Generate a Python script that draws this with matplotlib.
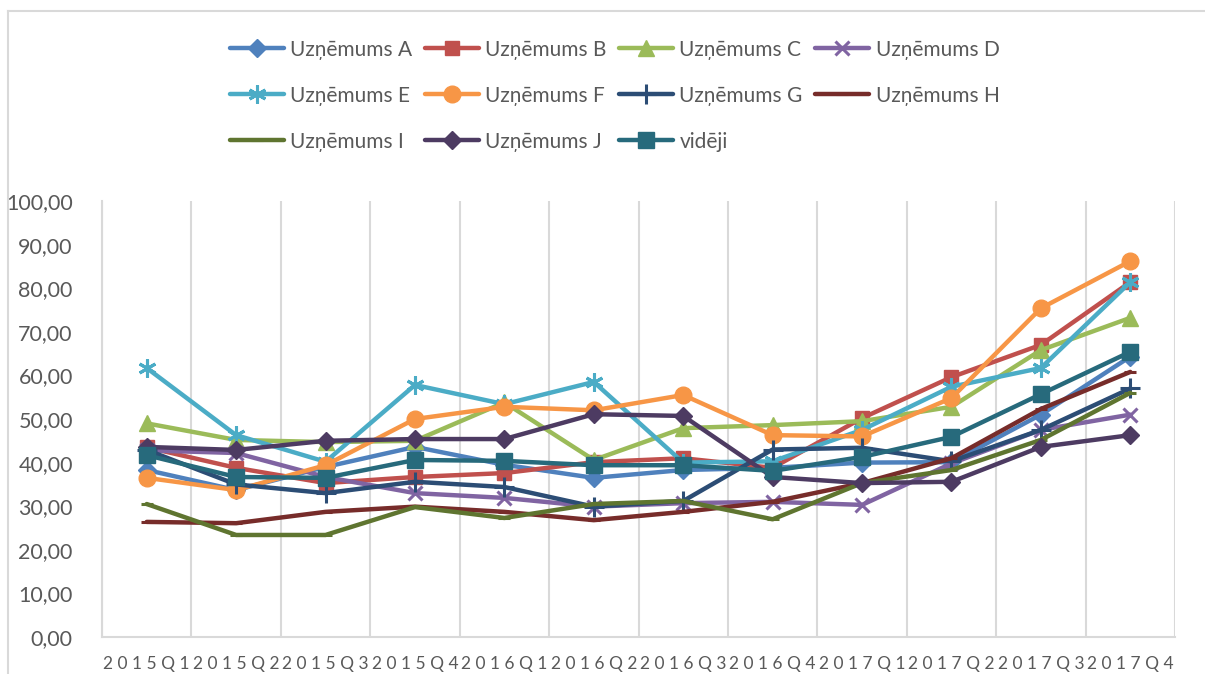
import matplotlib
matplotlib.use("Agg")
import matplotlib.pyplot as plt
from matplotlib.lines import Line2D
from matplotlib.ticker import FixedLocator, FuncFormatter

plt.rcParams['font.family'] = ['Lato', 'DejaVu Sans']

# ceturkšņi
quarters = ['2015Q1', '2015Q2', '2015Q3', '2015Q4',
            '2016Q1', '2016Q2', '2016Q3', '2016Q4',
            '2017Q1', '2017Q2', '2017Q3', '2017Q4']

# vērtības pa uzņēmumiem (nolasītas no attēla)
uzn_a = [38.3, 33.7, 39.0, 43.6, 39.5, 36.5, 38.3, 38.8, 40.0, 40.1, 51.0, 64.3]
uzn_b = [43.5, 38.8, 35.3, 36.7, 37.6, 40.1, 41.0, 38.8, 50.2, 59.6, 67.0, 81.4]
uzn_c = [49.0, 45.2, 44.7, 45.0, 53.8, 40.6, 47.9, 48.6, 49.5, 52.8, 65.8, 73.2]
uzn_d = [42.8, 42.2, 36.7, 33.0, 31.9, 29.9, 30.7, 31.0, 30.3, 39.8, 47.5, 51.0]
uzn_e = [61.7, 46.3, 40.2, 57.8, 53.4, 58.5, 40.0, 40.3, 47.5, 57.4, 61.7, 81.4]
uzn_f = [36.5, 33.7, 39.4, 50.0, 52.8, 52.0, 55.5, 46.3, 46.0, 54.8, 75.4, 86.2]
uzn_g = [42.9, 35.0, 33.0, 35.6, 34.4, 29.9, 31.2, 43.0, 43.4, 40.3, 47.5, 57.0]
uzn_h = [26.4, 26.1, 28.7, 29.9, 28.7, 26.8, 28.7, 31.0, 35.3, 41.0, 52.3, 60.8]
uzn_i = [30.5, 23.4, 23.4, 29.8, 27.3, 30.5, 31.2, 27.0, 35.3, 38.3, 45.2, 56.0]
uzn_j = [43.6, 42.9, 45.0, 45.4, 45.4, 51.1, 50.7, 36.7, 35.3, 35.6, 43.6, 46.3]
videji = [41.7, 36.7, 36.5, 40.6, 40.4, 39.4, 39.4, 38.1, 41.3, 45.9, 55.7, 65.4]

names = ['Uzņēmums A', 'Uzņēmums B', 'Uzņēmums C', 'Uzņēmums D',
         'Uzņēmums E', 'Uzņēmums F', 'Uzņēmums G', 'Uzņēmums H',
         'Uzņēmums I', 'Uzņēmums J', 'vidēji']
series = [uzn_a, uzn_b, uzn_c, uzn_d, uzn_e, uzn_f, uzn_g, uzn_h, uzn_i, uzn_j, videji]

# Excel 2010 krāsas un marķieri
colors = ['#4F81BD', '#C0504D', '#9BBB59', '#8064A2', '#4BACC6', '#F79646',
          '#2C4D75', '#772C2A', '#5F7530', '#4D3B62', '#276A7C']
markers = ['D', 's', '^', 'x', (6, 2, 0), 'o', '+', '_', '_', 'D', 's']
msizes = [9, 10, 11, 10, 13, 12, 14, 9, 9, 9, 11]

fig = plt.figure(figsize=(12.05, 6.74), dpi=100)
ax = fig.add_axes([102 / 1205, 1 - 637 / 674, 1073 / 1205, 436 / 674])

x = list(range(len(quarters)))
handles = []
for vals, name, c, m, ms in zip(series, names, colors, markers, msizes):
    mew = 2.2 if m in ('x', '+', '_') or isinstance(m, tuple) else 1
    h, = ax.plot(x, vals, color=c, lw=3.2, marker=m, markersize=ms,
                 markeredgewidth=mew, markerfacecolor=c, markeredgecolor=c,
                 solid_joinstyle='round', solid_capstyle='round', label=name)
    handles.append(h)

ax.set_xlim(-0.5, len(quarters) - 0.5)
ax.set_ylim(0, 100)
ax.set_yticks(range(0, 101, 10))
ax.yaxis.set_major_formatter(FuncFormatter(lambda v, p: f'{v:.2f}'.replace('.', ',')))
ax.set_xticks(x)
ax.set_xticklabels([' '.join(q) for q in quarters])
ax.xaxis.set_minor_locator(FixedLocator([k - 0.5 for k in range(len(quarters) + 1)]))
ax.grid(True, which='minor', axis='x', color='#D9D9D9', lw=1.5)
ax.tick_params(axis='both', which='both', length=0, colors='#595959')
ax.tick_params(axis='y', labelsize=15.5, pad=21)
ax.tick_params(axis='x', labelsize=12.5, pad=14)
for s in ['top', 'right']:
    ax.spines[s].set_visible(False)
for s in ['left', 'bottom']:
    ax.spines[s].set_color('#D9D9D9')
    ax.spines[s].set_linewidth(1.5)

# leģenda: rindās pa 4
order = [0, 4, 8, 1, 5, 9, 2, 6, 10, 3, 7]
leg = fig.legend([handles[i] for i in order], [names[i] for i in order],
                 loc='upper center', bbox_to_anchor=(0.51, 0.969), ncol=4,
                 frameon=False, fontsize=15, handlelength=2.6, handletextpad=0.3,
                 columnspacing=0.6, labelspacing=1.25, labelcolor='#595959')

# diagrammas rāmis
fig.add_artist(Line2D([8 / 1205, 8 / 1205], [0, 1 - 11 / 674], color='#D9D9D9', lw=1.5))
fig.add_artist(Line2D([8 / 1205, 1], [1 - 11 / 674, 1 - 11 / 674], color='#D9D9D9', lw=1.5))

fig.savefig('out.png', dpi=100)
